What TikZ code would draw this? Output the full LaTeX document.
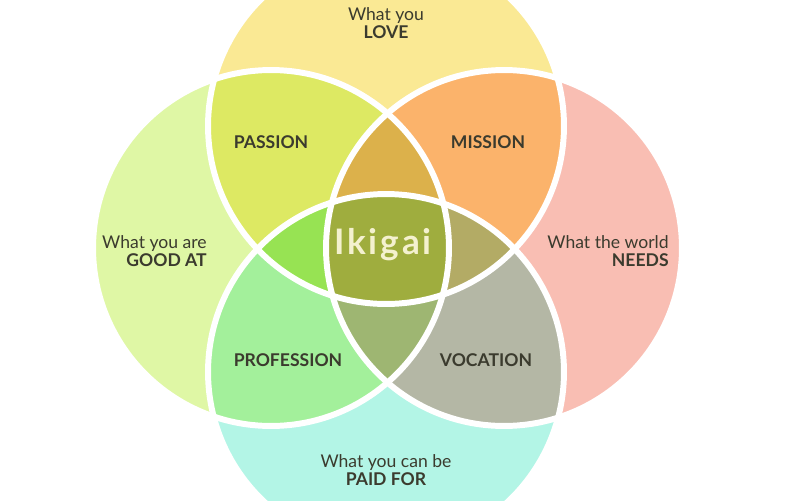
\documentclass[tikz,border=0pt]{standalone}
\usepackage{fontspec}
\setmainfont{Lato}
\newfontfamily\ikifont[LetterSpace=8]{Lato Bold}
\definecolor{cLove}{HTML}{FAE994}
\definecolor{cGood}{HTML}{DFF7A5}
\definecolor{cNeeds}{HTML}{F9BEB3}
\definecolor{cPaid}{HTML}{B3F5E6}
\definecolor{cPassion}{HTML}{DDE963}
\definecolor{cMission}{HTML}{FBB36B}
\definecolor{cProfession}{HTML}{A3F09B}
\definecolor{cVocation}{HTML}{B4B7A5}
\definecolor{cLensUp}{HTML}{DCB14B}
\definecolor{cLensLeft}{HTML}{97E353}
\definecolor{cLensRight}{HTML}{B3AB65}
\definecolor{cLensDown}{HTML}{9EB672}
\definecolor{cIkigai}{HTML}{9FAD3E}
\definecolor{cText}{HTML}{3B3B2E}
\definecolor{cCream}{HTML}{F4F1CF}
\begin{document}
\begin{tikzpicture}[x=0.02cm,y=-0.02cm,
		label/.style={text=cText,font=\fontsize{10}{10}\selectfont},
		ring/.style={draw=white,line width=3.4pt}]
				\useasboundingbox (0,0) rectangle (800,500);
				% Tâm của bốn đường tròn
				\coordinate (T) at (386,126);
				\coordinate (L) at (271,248);
				\coordinate (R) at (504,248);
				\coordinate (B) at (386,372);
				\def\rr{3.56cm}
				% Tô bốn hình tròn
				\fill[cLove] (T) circle (\rr);
				\fill[cGood] (L) circle (\rr);
				\fill[cNeeds] (R) circle (\rr);
				\fill[cPaid] (B) circle (\rr);
				% Giao của hai hình tròn
				\begin{scope}
				\clip (T) circle (\rr);
				\fill[cPassion] (L) circle (\rr);
				\fill[cMission] (R) circle (\rr);
				\end{scope}
				\begin{scope}
				\clip (B) circle (\rr);
				\fill[cProfession] (L) circle (\rr);
				\fill[cVocation] (R) circle (\rr);
				\end{scope}
				% Giao của ba hình tròn
				\begin{scope}
				\clip (L) circle (\rr);
				\clip (R) circle (\rr);
				\fill[cLensUp] (T) circle (\rr);
				\fill[cLensDown] (B) circle (\rr);
				\end{scope}
				\begin{scope}
				\clip (T) circle (\rr);
				\clip (B) circle (\rr);
				\fill[cLensLeft] (L) circle (\rr);
				\fill[cLensRight] (R) circle (\rr);
				\end{scope}
				% Phần chung của cả bốn
				\begin{scope}
				\clip (T) circle (\rr);
				\clip (B) circle (\rr);
				\clip (L) circle (\rr);
				\fill[cIkigai] (R) circle (\rr);
				\end{scope}
				% Viền trắng
				\foreach \c in {T,L,R,B}
				\draw[ring] (\c) circle (\rr);
				% Các nhãn
				\draw (386,23) node[label,align=center] (love) {What you\\\textbf{LOVE}};
				\draw (207,251) node[label,align=right,anchor=east,inner sep=0pt] (good) {What you are\\\textbf{GOOD AT}};
				\draw (669,251) node[label,align=right,anchor=east,inner sep=0pt] (needs) {What the world\\\textbf{NEEDS}};
				\draw (386,470) node[label,align=center] (paid) {What you can be\\\textbf{PAID FOR}};
				\draw (271,142) node[label,font=\fontsize{10}{10}\selectfont\bfseries] (passion) {PASSION};
				\draw (488,142) node[label,font=\fontsize{10}{10}\selectfont\bfseries] (mission) {MISSION};
				\draw (288,360) node[label,font=\fontsize{10}{10}\selectfont\bfseries] (profession) {PROFESSION};
				\draw (486,360) node[label,font=\fontsize{10}{10}\selectfont\bfseries] (vocation) {VOCATION};
				\draw (383,245) node[text=cCream,font=\fontsize{20}{20}\ikifont] (ikigai) {Ikigai};
		\end{tikzpicture}
\end{document}
